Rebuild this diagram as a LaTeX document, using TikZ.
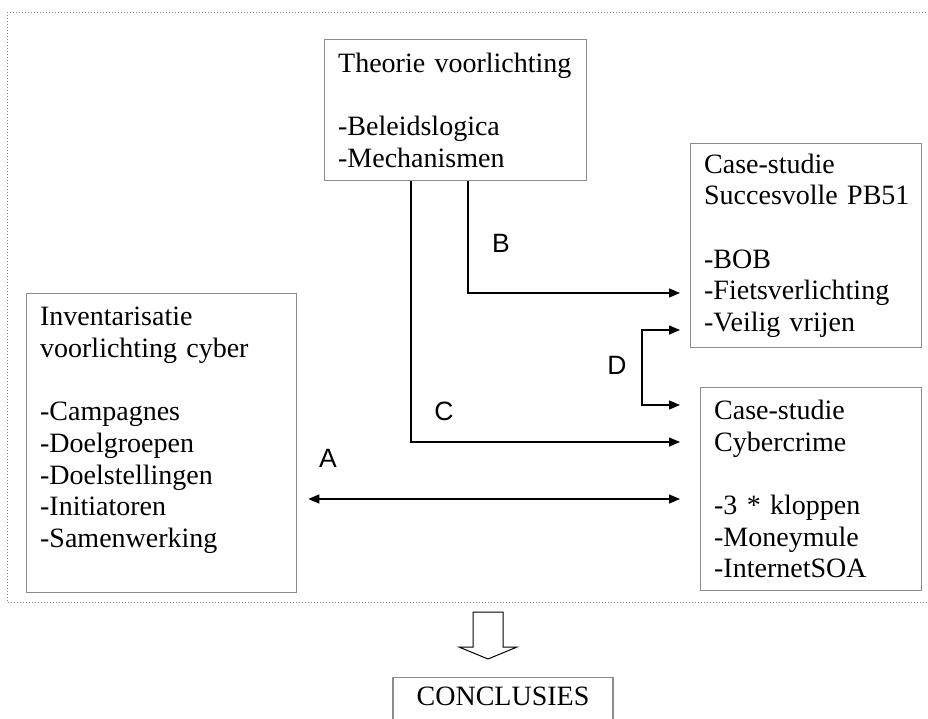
\documentclass[tikz,border=0pt]{standalone}
\usepackage{fontspec}
\setmainfont{Liberation Serif}
\newfontfamily\lblfont{Liberation Sans}
\usetikzlibrary{arrows.meta}
\definecolor{boxgray}{RGB}{140,140,140}

\begin{document}
\begin{tikzpicture}[x=1pt, y=-1pt,
  >={Triangle[length=11pt,width=9pt]},
  box/.style={rectangle, draw=boxgray, line width=1.3pt, anchor=north west, align=left,
    inner xsep=13.5pt, inner ysep=0pt, font=\fontsize{28}{31.7}\selectfont},
  link/.style={line width=1.3pt, ->},
  lbl/.style={font=\lblfont\fontsize{26.5}{30}\selectfont}]
\useasboundingbox (0,0) rectangle (928,718);
\draw [gray, dotted, line width=1pt] (7,12) rectangle (940,602);

\node [box, text width=235pt, minimum height=141pt] (theory) at (324,39) {Theorie voorlichting\\\mbox{}\\-Beleidslogica\\-Mechanismen};
\node [box, text width=204pt, minimum height=204pt] (pb) at (690,143) {Case-studie\\\mbox{Succesvolle PB51}\\\mbox{}\\-BOB\\-Fietsverlichting\\-Veilig vrijen};
\node [box, text width=243pt, minimum height=299pt] (inv) at (26,293) {Inventarisatie\\voorlichting cyber\\\mbox{}\\-Campagnes\\-Doelgroepen\\-Doelstellingen\\-Initiatoren\\-Samenwerking\\\mbox{}};
\node [box, text width=194pt, minimum height=203pt] (cyber) at (700,387) {Case-studie\\Cybercrime\\\mbox{}\\-3 * kloppen\\-Moneymule\\-InternetSOA};
\node [box, anchor=north, inner xsep=0pt, minimum width=220pt, text height=28pt, text depth=45pt] (concl) at (503,677) {CONCLUSIES};

\coordinate (bX) at (468,0);
\coordinate (bY) at (0,293);
\coordinate (cX) at (411,0);
\coordinate (cY) at (0,442);
\coordinate (aY) at (0,499);
\coordinate (dTop) at (642,330);
\coordinate (dBot) at (642,405);

\draw [link, shorten >=10pt] (theory.south -| bX) |- (pb.west |- bY);
\draw [link, shorten >=20pt] (theory.south -| cX) |- (cyber.west |- cY);
\draw [link, <->, shorten <=11pt, shorten >=20pt] (inv.east |- aY) -- (cyber.west |- aY);
\draw [link, <->, shorten <=10pt, shorten >=20pt] (pb.west |- dTop) -- (dTop) |- (cyber.west |- dBot);

\node [lbl] (lA) at (328,458) {A};
\node [lbl] (lB) at (501,243) {B};
\node [lbl] (lC) at (444,411) {C};
\node [lbl] (lD) at (617,365) {D};

\draw [line width=1pt, fill=white] (473,612) -- (503,612) -- (503,647) -- (517,647) -- (488,659) -- (459,647) -- (473,647) -- cycle;
\end{tikzpicture}
\end{document}
